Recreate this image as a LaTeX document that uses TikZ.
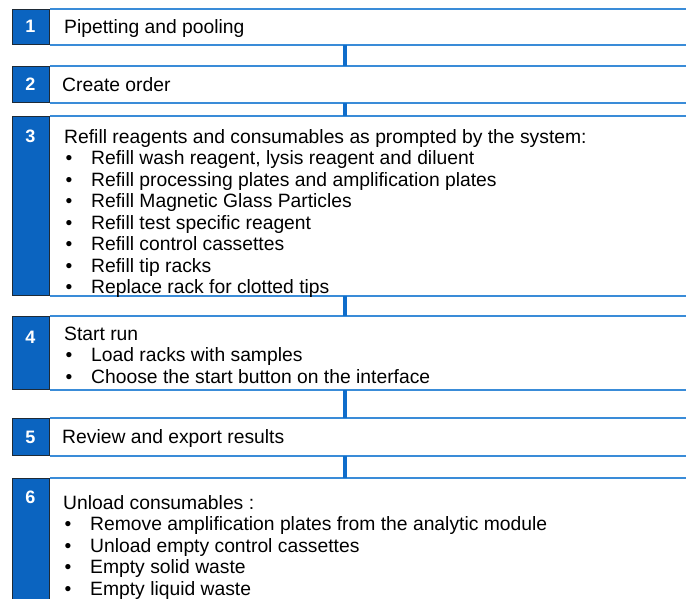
\documentclass[tikz,border=0pt]{standalone}
\usepackage{fontspec}
\setmainfont{Liberation Sans}
\definecolor{stepblue}{HTML}{0B64C0}
\definecolor{rowblue}{HTML}{3A8CD8}
\definecolor{linkblue}{HTML}{0F6DCB}
\definecolor{boxrim}{HTML}{1E2A36}
\def\itm{\makebox[27pt][l]{\hspace{1.5pt}\textbullet}}
\tikzset{
  numbox/.style={draw=boxrim, line width=1.3pt, fill=stepblue, minimum width=37pt, anchor=north west, inner sep=0pt},
  numtxt/.style={anchor=base, text=white, font=\fontsize{18}{18}\selectfont\bfseries},
  rowline/.style={draw=rowblue, line width=1.8pt},
  link/.style={draw=linkblue, line width=3.2pt},
  steptxt/.style={anchor=base west, align=left, inner sep=0pt, font=\fontsize{19.3}{21.5}\selectfont}
}

\begin{document}
\begin{tikzpicture}[x=1pt, y=-1pt]
  %%%%% START %%%%%
  \useasboundingbox (0,0) rectangle (686,598);
  \clip (0,0) rectangle (686,598);
  \coordinate (mid) at (345,0);
  \coordinate (edge) at (690,0);

  \node[numbox, minimum height=35pt] (b1) at (12,9) {};
  \node[numbox, minimum height=36pt] (b2) at (12,66) {};
  \node[numbox, minimum height=179pt] (b3) at (12,116) {};
  \node[numbox, minimum height=73pt] (b4) at (12,316) {};
  \node[numbox, minimum height=37pt] (b5) at (12,418) {};
  \node[numbox, minimum height=150pt] (b6) at (12,478) {};

  \foreach \s in {1,...,6}{
    \draw[rowline] (b\s.north east) -- (b\s.north east -| edge);
    \draw[rowline] (b\s.south east) -- (b\s.south east -| edge);
  }

  \foreach \s [count=\t from 2] in {1,...,5}
    \draw[link] (b\s.south -| mid) -- (b\t.north -| mid);

  \node[numtxt] (n1) at (30.5,32.5) {1};
  \node[numtxt] (n2) at (30.5,90) {2};
  \node[numtxt] (n3) at (30.5,142.5) {3};
  \node[numtxt] (n4) at (30.5,343) {4};
  \node[numtxt] (n5) at (30.5,443) {5};
  \node[numtxt] (n6) at (30.5,503) {6};

  % base of a text node = baseline of its last line
  \node[steptxt] (t1) at (64,33) {Pipetting and pooling};
  \node[steptxt] (t2) at (62,91) {Create order};
  \node[steptxt] (t3) at (64,293.5) {Refill reagents and consumables as prompted by the system:\\
    \itm Refill wash reagent, lysis reagent and diluent\\
    \itm Refill processing plates and amplification plates\\
    \itm Refill Magnetic Glass Particles\\
    \itm Refill test specific reagent\\
    \itm Refill control cassettes\\
    \itm Refill tip racks\\
    \itm Replace rack for clotted tips};
  \node[steptxt] (t4) at (64,383) {Start run\\
    \itm Load racks with samples\\
    \itm Choose the start button on the interface};
  \node[steptxt] (t5) at (62,443) {Review and export results};
  \node[steptxt] (t6) at (63,595) {Unload consumables :\\
    \itm Remove amplification plates from the analytic module\\
    \itm Unload empty control cassettes\\
    \itm Empty solid waste\\
    \itm Empty liquid waste};
  %%%%% END %%%%%
\end{tikzpicture}
\end{document}
